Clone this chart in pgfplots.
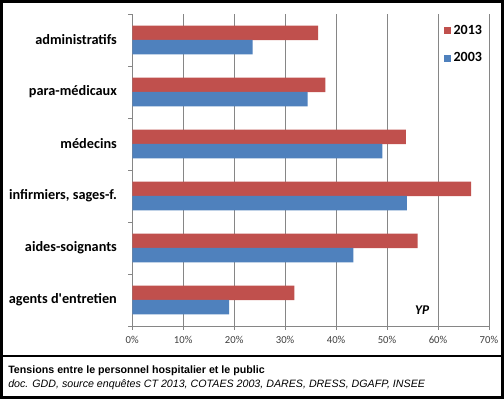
\documentclass[border=0pt]{standalone}
\usepackage{pgfplots}
\pgfplotsset{compat=1.18}
\usepackage{fontspec}
\setmainfont{Carlito}
\newfontfamily\arial{Liberation Sans}
\definecolor{red13}{HTML}{C0504D}
\definecolor{blue03}{HTML}{4F81BD}
\definecolor{gridc}{HTML}{868686}
\begin{document}
\begin{tikzpicture}
\fill[white] (0pt,0pt) rectangle (378pt,299.25pt);
\draw[line width=2.25pt] (1.125pt,1.125pt) rectangle (376.875pt,298.125pt);
\draw[line width=0.9pt] (2.25pt,32.25pt) -- (375.75pt,32.25pt);
\begin{axis}[
  at={(99.2pt,54.75pt)}, anchor=south west,
  scale only axis, width=267.5pt, height=234pt,
  xmin=0, xmax=70, ymin=-0.5, ymax=5.5,
  axis x line*=bottom, axis y line*=left,
  axis line style={gridc, line width=0.6pt},
  xtick={0,10,...,70},
  xticklabel={\pgfmathprintnumber{\tick}\%},
  /pgf/number format/assume math mode=true,
  xticklabel style={font=\fontsize{8}{9}\selectfont, text=black!75, yshift=-1.5pt},
  xmajorgrids, grid style={gridc, line width=0.6pt},
  tick align=outside, major tick length=3pt,
  tick style={gridc, line width=0.6pt},
  ytick={-0.5,0.5,...,5.5}, yticklabels={},
  extra y ticks={0,1,2,3,4,5},
  extra y tick labels={agents d\textquotesingle entretien, aides-soignants, {infirmiers, sages-f.}, médecins, para-médicaux, administratifs},
  extra y tick style={major tick length=0pt, yticklabel style={font=\bfseries\fontsize{10.7}{12}\selectfont, xshift=-8pt}},
  legend style={at={(1,1)}, anchor=north east, yshift=-3pt, draw=none, fill=white,
    font=\bfseries\fontsize{10.5}{12}\selectfont, row sep=8.5pt, inner sep=3pt},
  legend cell align=left,
  legend image code/.code={\fill[#1] (0pt,-2.7pt) rectangle (5.4pt,2.7pt);},
]
\addplot[xbar, fill=red13, draw=none, bar width=10.9pt, bar shift=5.4pt]
  coordinates {(31.8,0) (56.0,1) (66.5,2) (53.7,3) (37.9,4) (36.5,5)};
\addplot[xbar, fill=blue03, draw=none, bar width=10.9pt, bar shift=-5.4pt]
  coordinates {(19.0,0) (43.4,1) (53.9,2) (49.1,3) (34.4,4) (23.6,5)};
\legend{2013,2003}
\node[font=\bfseries\itshape\fontsize{10}{11}\selectfont] at (axis cs:56.9,-0.19) {YP};
\end{axis}
\node[anchor=west, font=\arial\bfseries\fontsize{8}{9}\selectfont, inner sep=0pt] at (6pt,21.2pt) {Tensions entre le personnel hospitalier et le public};
\node[anchor=west, font=\arial\itshape\fontsize{8}{9}\selectfont, inner sep=0pt] at (6pt,11pt) {doc. GDD, source enquêtes CT 2013, COTAES 2003, DARES, DRESS, DGAFP, INSEE};
\end{tikzpicture}
\end{document}
